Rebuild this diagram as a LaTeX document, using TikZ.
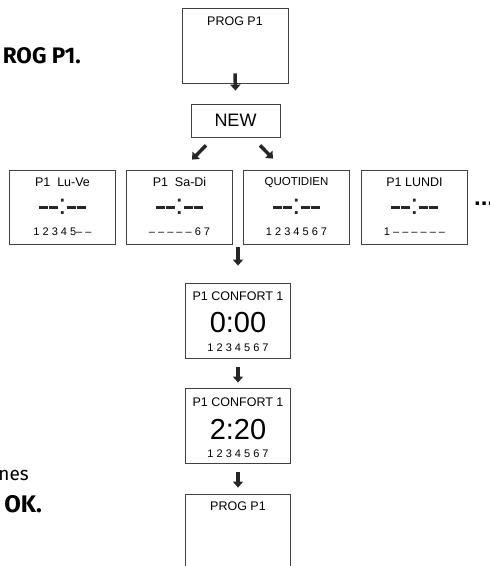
\documentclass[tikz,border=0pt]{standalone}
\usepackage{fontspec}
\setmainfont{Liberation Sans}
\newfontfamily\bodyfont{Fira Sans}
\usetikzlibrary{arrows.meta,calc}

% display shown while no time is set
\newcommand{\segbar}{\rule[6pt]{9pt}{3pt}}
\newcommand{\segdash}{\segbar\kern1pt\segbar{\fontsize{29}{29}\selectfont:}\segbar\kern1pt\segbar}

\begin{document}
\begin{tikzpicture}[x=1pt, y=-1pt,
  screen/.style={draw=black!75, line width=0.8pt, minimum width=106pt, minimum height=75pt, inner sep=0pt},
  daybox/.style={screen, minimum height=74pt},
  title/.style={font=\fontsize{12.5}{12.5}\selectfont, inner sep=0pt},
  clock/.style={font=\fontsize{29}{29}\selectfont, inner sep=0pt},
  dashes/.style={inner sep=0pt, text=black!85},
  days/.style={font=\fontsize{11}{11}\selectfont, inner sep=0pt},
  fatarrow/.style={line width=3.5pt, draw=black!85, -{Triangle[width=10pt,length=6pt]}},
  side/.style={font=\bodyfont\fontsize{22.5}{22.5}\selectfont, inner sep=0pt, anchor=base east}]
  \path[use as bounding box] (0,0) rectangle (490,566);
  \clip (0,0) rectangle (490,566);

  % text on the left, cut by the page edge
  \node[side] (selA) at (81,63) {\bfseries ROG P1.};
  \node[side, font=\bodyfont\fontsize{19}{19}\selectfont] (selB) at (29,480) {nes};
  \node[side, font=\bodyfont\fontsize{24}{24}\selectfont] (selC) at (42,512) {\bfseries OK.};

  % start screen and menu
  \node[screen] (prog) at (235,45.5) {};
  \node[title] at ([yshift=-14pt]prog.north) {PROG P1};
  \node[draw=black!75, line width=0.8pt, minimum width=89pt, minimum height=33pt,
        inner sep=0pt, font=\fontsize{18}{18}\selectfont] (new) at (235.5,120.5) {NEW};

  % the four day programmes
  \foreach \nm/\x/\ttl/\dys in {
      luve/62.5/{P1\ \ Lu-Ve}/{1 2 3 4 5– –},
      sadi/179.5/{P1\ \ Sa-Di}/{– – – – – 6 7},
      quot/296.5/{\fontsize{11.5}{11.5}\selectfont QUOTIDIEN}/{1 2 3 4 5 6 7},
      lundi/414.5/{P1 LUNDI}/{1 – – – – – –}} {
    \node[daybox] (\nm) at (\x,207) {};
    \node[title] at ([yshift=-12.5pt]\nm.north) {\ttl};
    \node[dashes] at ([yshift=-37.7pt]\nm.north) {\segdash};
    \node[days] at ([yshift=-62.5pt]\nm.north) {\dys};
  }
  \node[anchor=base west, inner sep=0pt, font=\fontsize{24}{24}\selectfont\bfseries]
    (more) at ([xshift=6pt,yshift=-36pt]lundi.north east) {...};

  % comfort time screens
  \node[screen, minimum width=105pt] (confA) at (238,320.5) {};
  \node[title] at ([yshift=-14pt]confA.north) {P1 CONFORT 1};
  \node[clock] at ([yshift=-40pt]confA.north) {0:00};
  \node[days] at ([yshift=-65pt]confA.north) {1 2 3 4 5 6 7};

  \node[screen, minimum width=105pt] (confB) at (238,425.5) {};
  \node[title] at ([yshift=-15pt]confB.north) {P1 CONFORT 1};
  \node[clock] at ([yshift=-42pt]confB.north) {2:20};
  \node[days] at ([yshift=-66pt]confB.north) {1 2 3 4 5 6 7};

  \node[screen, minimum width=105pt] (last) at (238,531.5) {};
  \node[title] at ([yshift=-13pt]last.north) {PROG P1};

  % arrows
  \draw[fatarrow] ([yshift=10pt]prog.south) -- ([yshift=13pt]new.north);
  \draw[fatarrow] ([shift={(-29.5pt,-8pt)}]new.south) -- ([shift={(12.5pt,10pt)}]sadi.north);
  \draw[fatarrow] ([shift={(24.5pt,-8pt)}]new.south) -- ([shift={(-23.5pt,11pt)}]quot.north);
  \draw[fatarrow] ([yshift=-3pt]$(sadi.south)!0.5!(quot.south)$) -- ([yshift=17pt]confA.north);
  \draw[fatarrow] ([yshift=-9pt]confA.south) -- ([yshift=5pt]confB.north);
  \draw[fatarrow] ([yshift=-9pt]confB.south) -- ([yshift=6pt]last.north);
\end{tikzpicture}
\end{document}
